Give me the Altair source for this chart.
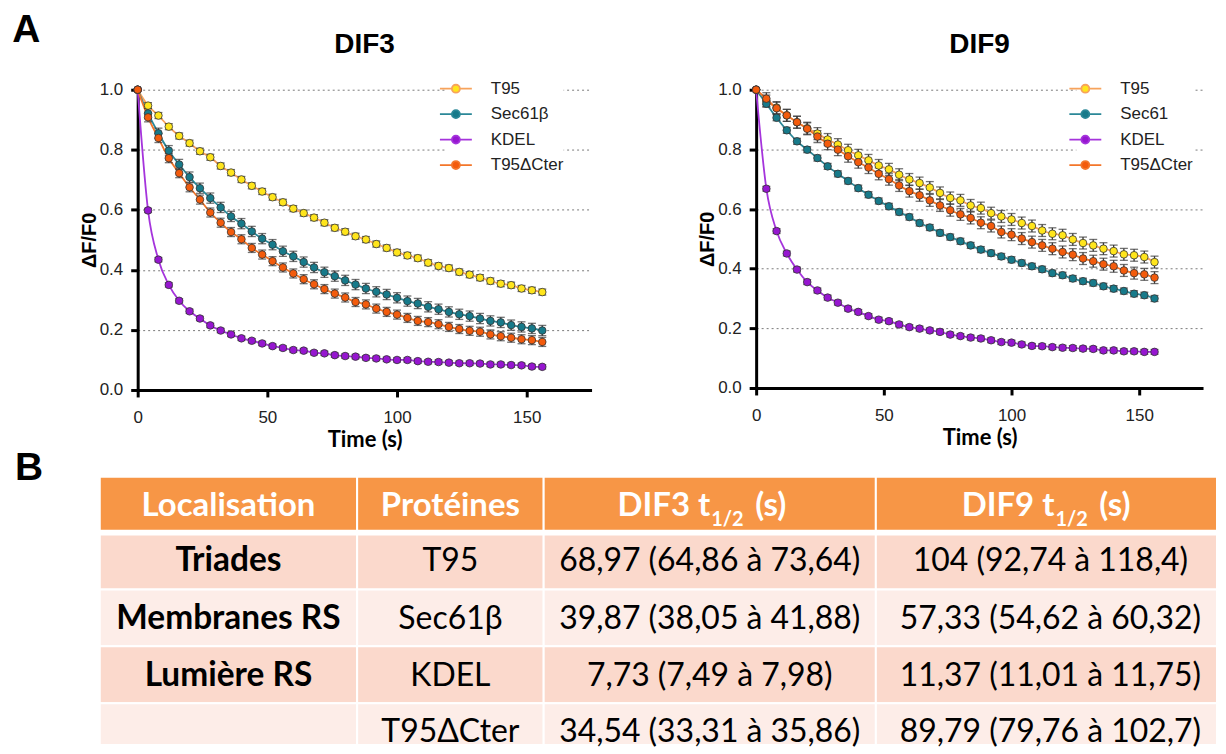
import altair as alt
import pandas as pd

# ---------------- data ----------------
TIME = [0, 4, 8, 12, 16, 20, 24, 28, 32, 36, 40, 44, 48, 52, 56, 60, 64, 68, 72, 76,
        80, 84, 88, 92, 96, 100, 104, 108, 112, 116, 120, 124, 128, 132, 136, 140, 144, 148, 152, 156]

DIF3_NAMES = ["T95", "Sec61β", "KDEL", "T95ΔCter"]
DIF9_NAMES = ["T95", "Sec61", "KDEL", "T95ΔCter"]

DIF3_T95 = [1.000, 0.947, 0.914, 0.877, 0.846, 0.822, 0.795, 0.775, 0.746, 0.724,
            0.701, 0.680, 0.661, 0.642, 0.625, 0.604, 0.589, 0.574, 0.557, 0.540,
            0.527, 0.512, 0.501, 0.486, 0.473, 0.458, 0.448, 0.439, 0.424, 0.413,
            0.406, 0.393, 0.384, 0.374, 0.363, 0.354, 0.349, 0.338, 0.332, 0.326]
DIF3_SEC = [1.000, 0.921, 0.855, 0.797, 0.751, 0.709, 0.672, 0.639, 0.608, 0.578,
            0.554, 0.528, 0.504, 0.484, 0.462, 0.445, 0.426, 0.408, 0.392, 0.379,
            0.365, 0.351, 0.338, 0.327, 0.318, 0.307, 0.296, 0.288, 0.277, 0.269,
            0.260, 0.252, 0.246, 0.238, 0.230, 0.225, 0.216, 0.210, 0.205, 0.198]
DIF3_KDEL = [1.000, 0.598, 0.434, 0.350, 0.297, 0.262, 0.238, 0.215, 0.198, 0.185,
             0.172, 0.164, 0.155, 0.146, 0.140, 0.133, 0.131, 0.124, 0.122, 0.116,
             0.113, 0.111, 0.107, 0.105, 0.102, 0.100, 0.100, 0.096, 0.094, 0.093,
             0.091, 0.089, 0.089, 0.088, 0.085, 0.085, 0.083, 0.082, 0.078, 0.077]
DIF3_DCTER = [1.000, 0.908, 0.839, 0.772, 0.722, 0.675, 0.634, 0.591, 0.557, 0.526,
              0.502, 0.473, 0.451, 0.429, 0.408, 0.388, 0.369, 0.352, 0.336, 0.321,
              0.308, 0.293, 0.285, 0.271, 0.260, 0.251, 0.240, 0.230, 0.226, 0.219,
              0.210, 0.203, 0.197, 0.194, 0.185, 0.179, 0.174, 0.169, 0.166, 0.160]

DIF9_T95 = [1.000, 0.962, 0.940, 0.914, 0.891, 0.871, 0.853, 0.833, 0.816, 0.797,
            0.780, 0.763, 0.746, 0.733, 0.715, 0.699, 0.687, 0.672, 0.654, 0.637,
            0.629, 0.612, 0.603, 0.586, 0.575, 0.565, 0.553, 0.543, 0.528, 0.517,
            0.512, 0.498, 0.486, 0.478, 0.467, 0.459, 0.448, 0.445, 0.439, 0.422]
DIF9_SEC = [1.000, 0.953, 0.906, 0.864, 0.827, 0.799, 0.771, 0.743, 0.718, 0.694,
            0.670, 0.648, 0.627, 0.609, 0.590, 0.573, 0.553, 0.538, 0.520, 0.506,
            0.492, 0.478, 0.464, 0.452, 0.441, 0.430, 0.419, 0.408, 0.398, 0.385,
            0.378, 0.367, 0.358, 0.352, 0.341, 0.333, 0.325, 0.316, 0.311, 0.300]
DIF9_KDEL = [1.000, 0.668, 0.526, 0.451, 0.397, 0.355, 0.327, 0.303, 0.286, 0.266,
             0.255, 0.241, 0.229, 0.224, 0.213, 0.204, 0.199, 0.193, 0.188, 0.179,
             0.174, 0.169, 0.166, 0.160, 0.154, 0.152, 0.146, 0.141, 0.140, 0.137,
             0.135, 0.134, 0.132, 0.131, 0.126, 0.126, 0.123, 0.123, 0.121, 0.121]
DIF9_DCTER = [1.000, 0.970, 0.938, 0.914, 0.891, 0.869, 0.843, 0.819, 0.799, 0.777,
              0.757, 0.739, 0.718, 0.700, 0.679, 0.660, 0.646, 0.629, 0.612, 0.596,
              0.582, 0.570, 0.554, 0.543, 0.523, 0.514, 0.501, 0.489, 0.478, 0.467,
              0.456, 0.447, 0.434, 0.425, 0.415, 0.408, 0.394, 0.385, 0.381, 0.370]

# standard error (one per series)
DIF3_SEM = [0.010, 0.017, 0.007, 0.015]
DIF9_SEM = [0.020, 0.010, 0.008, 0.020]

X_TICKS = [0, 50, 100, 150]
Y_TICKS = [0.0, 0.2, 0.4, 0.6, 0.8, 1.0]

# table content
TABLE_HEAD = ["Localisation", "Protéines"]
TABLE_HEAD_T = ["DIF3 t", "DIF9 t"]
TABLE_LOC = ["Triades", "Membranes RS", "Lumière RS", ""]
TABLE_PROT = ["T95", "Sec61β", "KDEL", "T95ΔCter"]
TABLE_DIF3 = ["68,97 (64,86 à 73,64)", "39,87 (38,05 à 41,88)", "7,73 (7,49 à 7,98)", "34,54 (33,31 à 35,86)"]
TABLE_DIF9 = ["104 (92,74 à 118,4)", "57,33 (54,62 à 60,32)", "11,37 (11,01 à 11,75)", "89,79 (79,76 à 102,7)"]

# ---------------- style ----------------
FILL_COLORS = ["#FFE51C", "#177A8A", "#9616D0", "#F35B0C"]
LINE_COLORS = ["#F7A35C", "#2B8898", "#A534DC", "#F3762A"]
AXIS_FONT = "Liberation Sans"
LEGEND_PATH = "M-2,0L-0.5,0M0.5,0L2,0M0.5,0A0.5,0.5,0,1,1,-0.5,0A0.5,0.5,0,1,1,0.5,0Z"


def panel_df(names, series, sems):
    rows = []
    for k, (name, vals, sem) in enumerate(zip(names, series, sems)):
        for t, v in zip(TIME, vals):
            e = sem if t > 0 else 0.0
            rows.append({"series": name, "k": k, "time": t, "value": v, "lo": v - e, "hi": v + e})
    return pd.DataFrame(rows)


def panel(df, names, title, width, height, legend_x):
    xs = alt.Scale(domain=[0, 175], nice=False, zero=False)
    ys = alt.Scale(domain=[0, 1], nice=False)
    xaxis = alt.Axis(values=X_TICKS, title="Time (s)", grid=False, labelFont=AXIS_FONT,
                     labelFontSize=17, labelColor="#222", labelPadding=13,
                     domainColor="black", domainWidth=3, tickColor="black", tickWidth=3,
                     tickSize=7, titleFont="Lato", titleFontSize=22, titleFontWeight="bold",
                     titleColor="black", titlePadding=4, labelFlush=False)
    yaxis = alt.Axis(values=Y_TICKS, format=".1f", title="ΔF/F0", grid=True,
                     gridColor="#7a7a7a", gridDash=[2, 3], gridWidth=1,
                     labelFont=AXIS_FONT, labelFontSize=17, labelColor="#222", labelPadding=8,
                     domainColor="black", domainWidth=3, tickColor="black", tickWidth=3,
                     tickSize=7, titleFont=AXIS_FONT, titleFontSize=20, titleFontWeight="bold",
                     titleColor="black", titlePadding=0, labelFlush=False)
    legend = alt.Legend(title=None, orient="none", legendX=legend_x, legendY=-10,
                        symbolType=LEGEND_PATH, symbolSize=256, symbolStrokeWidth=1.8,
                        symbolOpacity=1, labelFont=AXIS_FONT, labelFontSize=17,
                        labelColor="#222", labelOffset=26, rowPadding=8.5, padding=0,
                        fillColor="white")
    fscale = alt.Scale(domain=names, range=FILL_COLORS)
    sscale = alt.Scale(domain=names, range=LINE_COLORS)
    base = alt.Chart(df)
    lines = base.mark_line(interpolate="monotone", strokeWidth=1.8).encode(
        x=alt.X("time:Q", scale=xs, axis=xaxis),
        y=alt.Y("value:Q", scale=ys, axis=yaxis),
        stroke=alt.Stroke("series:N", scale=sscale, legend=legend),
        detail="series:N",
    )
    errs = base.transform_filter("datum.time > 0").mark_errorbar(
        ticks=True, size=8, thickness=1.3, color="#383838").encode(
        x=alt.X("time:Q", scale=xs, axis=xaxis),
        y=alt.Y("lo:Q", scale=ys, axis=yaxis),
        y2="hi:Q",
        detail="series:N",
    )
    pts = base.mark_point(filled=True, size=58, opacity=1, stroke="#333",
                          strokeWidth=0.8, shape="circle").encode(
        x=alt.X("time:Q", scale=xs, axis=xaxis),
        y=alt.Y("value:Q", scale=ys, axis=yaxis),
        fill=alt.Fill("series:N", scale=fscale, legend=legend),
        order="k:Q",
    )
    return alt.layer(lines, errs, pts).properties(
        width=width, height=height,
        title=alt.TitleParams(title, font=AXIS_FONT, fontSize=28, fontWeight="bold",
                              color="black", frame="group", anchor="middle",
                              baseline="alphabetic", offset=-1),
    )


left = panel(panel_df(DIF3_NAMES, [DIF3_T95, DIF3_SEC, DIF3_KDEL, DIF3_DCTER], DIF3_SEM),
             DIF3_NAMES, "DIF3", 455, 301, 310)
right = panel(panel_df(DIF9_NAMES, [DIF9_T95, DIF9_SEC, DIF9_KDEL, DIF9_DCTER], DIF9_SEM),
              DIF9_NAMES, "DIF9", 448, 299, 321)

top = alt.hconcat(left, right, spacing=106).resolve_scale(
    fill="independent", stroke="independent"
).resolve_legend(fill="independent", stroke="independent").properties(
    title=alt.TitleParams("A", font=AXIS_FONT, fontSize=39, fontWeight="bold", color="black",
                          anchor="start", frame="bounds", dx=-67, baseline="alphabetic",
                          offset=-50)
)

# ---------------- table (layout in page pixels) ----------------
TX0, TX1 = 136, 1218
TY0, TY1 = 477, 746
COL_EDGES = [98, 356, 543, 876, 1218]
ROW_EDGES = [(477, 531), (535, 590), (590, 647), (647, 704), (704, 746)]
ROW_FILLS = ["#F79646", "#FBD9CC", "#FDEDE8", "#FBD9CC", "#FDEDE8"]
TEXT_X = [227, 449.5, 709.5, 1051]
ROW_BASE = [516, 571, 630, 687, 743]
T_END = [710, 1055]
SUB_X = [711, 1056]
PAREN_X = [755, 1100]

cells = []
for r, ((y0, y1), fcol) in enumerate(zip(ROW_EDGES, ROW_FILLS)):
    for c in range(4):
        cells.append({"x0": COL_EDGES[c], "x1": COL_EDGES[c + 1], "y0": y0, "y1": y1, "fill": fcol})
cells_df = pd.DataFrame(cells)

head_df = pd.DataFrame({"text": TABLE_HEAD, "x": TEXT_X[:2], "y": [ROW_BASE[0]] * 2})
headt_df = pd.DataFrame({"text": TABLE_HEAD_T, "x": T_END, "y": [ROW_BASE[0]] * 2})
headsub_df = pd.DataFrame({"text": ["1/2", "1/2"], "x": SUB_X, "y": [ROW_BASE[0] + 10] * 2})
heads_df = pd.DataFrame({"text": ["(s)", "(s)"], "x": PAREN_X, "y": [ROW_BASE[0]] * 2})
loc_df = pd.DataFrame({"text": TABLE_LOC, "x": [TEXT_X[0]] * 4, "y": ROW_BASE[1:]})
body = []
for i in range(4):
    body.append({"text": TABLE_PROT[i], "x": TEXT_X[1], "y": ROW_BASE[i + 1]})
    body.append({"text": TABLE_DIF3[i], "x": TEXT_X[2], "y": ROW_BASE[i + 1]})
    body.append({"text": TABLE_DIF9[i], "x": TEXT_X[3], "y": ROW_BASE[i + 1]})
body_df = pd.DataFrame(body)

txs = alt.Scale(domain=[TX0, TX1], nice=False, zero=False)
tys = alt.Scale(domain=[TY0, TY1], nice=False, zero=False, reverse=True)

rects = alt.Chart(cells_df).mark_rect(stroke="white", strokeWidth=2).encode(
    x=alt.X("x0:Q", scale=txs, axis=None), x2="x1:Q",
    y=alt.Y("y0:Q", scale=tys, axis=None), y2="y1:Q",
    fill=alt.Fill("fill:N", scale=None),
)


def tlayer(df, size, weight, color, align):
    return alt.Chart(df).mark_text(font="Lato", fontSize=size, fontWeight=weight, color=color,
                                   align=align, baseline="alphabetic").encode(
        x=alt.X("x:Q", scale=txs, axis=None), y=alt.Y("y:Q", scale=tys, axis=None), text="text:N")


table = alt.layer(
    rects,
    tlayer(head_df, 33, "bold", "white", "center"),
    tlayer(headt_df, 33, "bold", "white", "right"),
    tlayer(headsub_df, 20, "bold", "white", "left"),
    tlayer(heads_df, 33, "bold", "white", "left"),
    tlayer(loc_df, 33.5, "bold", "black", "center"),
    tlayer(body_df, 32, "normal", "black", "center"),
).properties(
    width=TX1 - TX0, height=TY1 - TY0,
    title=alt.TitleParams("B", font=AXIS_FONT, fontSize=39, fontWeight="bold", color="black",
                          anchor="start", frame="group", dx=-123, baseline="alphabetic",
                          offset=-43),
)

chart = alt.vconcat(top, table, spacing=-2).properties(
    padding={"left": 4, "top": 2, "right": 0, "bottom": 0}, background="white"
).configure_view(stroke=None).configure_concat(spacing=0)

chart.save("out.html", embed_options={"renderer": "svg", "actions": False})
